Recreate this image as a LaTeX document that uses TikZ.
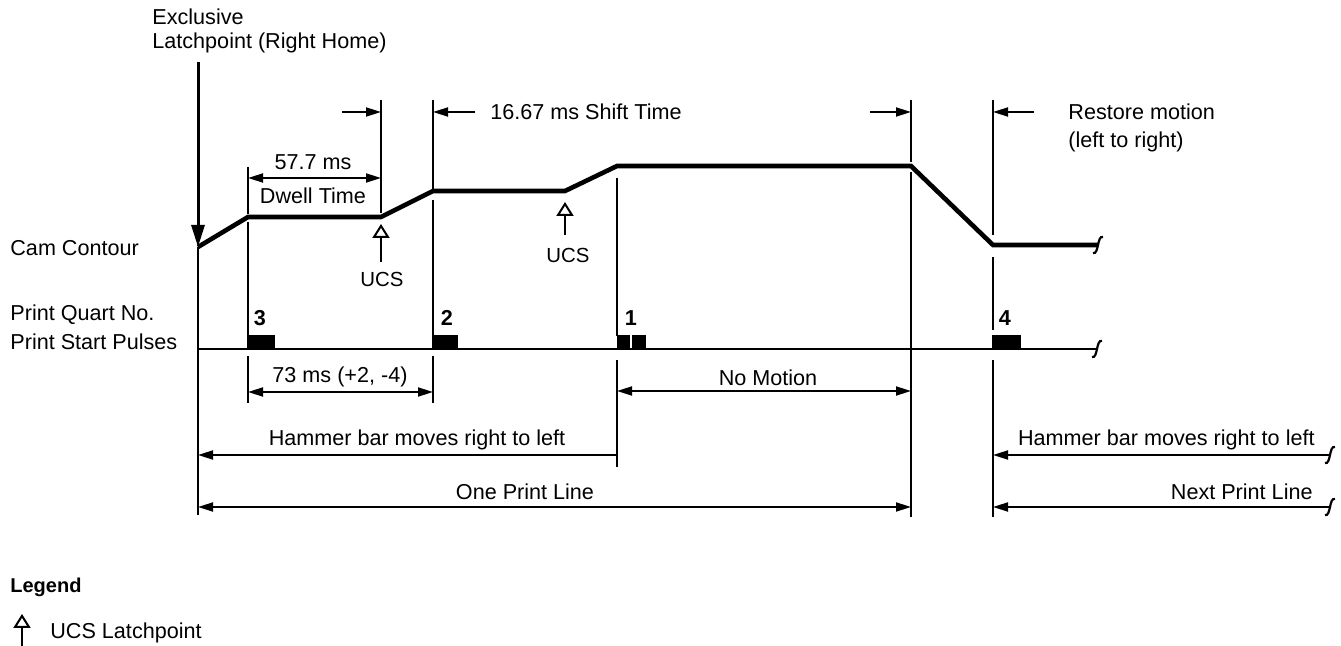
\documentclass[tikz,border=0pt]{standalone}
\usepackage{fontspec}
\setmainfont{Liberation Sans}
\usetikzlibrary{arrows.meta, positioning, calc}

\begin{document}
\begin{tikzpicture}[
        x=0.5pt, y=-0.5pt,
        lbl/.style={font=\fontsize{10.8}{13}\selectfont, inner sep=0pt},
        small/.style={font=\fontsize{10.2}{12}\selectfont, inner sep=0pt},
        num/.style={font=\fontsize{10.8}{13}\selectfont\bfseries, inner sep=0pt},
        cam/.style={line width=2.3pt, line join=miter},
        guide/.style={line width=0.9pt},
        dim/.style={line width=0.9pt, {Triangle[length=7.5pt,width=4.5pt]}-{Triangle[length=7.5pt,width=4.5pt]}},
        toarrow/.style={line width=0.9pt, -{Triangle[length=7.5pt,width=4.5pt]}},
        ucs/.style={line width=1pt, -{Triangle[open,length=7pt,width=8.5pt,line width=1pt]}},
        brk/.pic={\draw[line width=1.1pt] (-5,8) .. controls (1,10) and (-1,-10) .. (5,-8);}
    ]
        \useasboundingbox (0,0) rectangle (1341,646);

        \node (excl) [lbl, anchor=west] at (152,17) {Exclusive};
        \node (latch) [lbl, anchor=west] at (152,43) {Latchpoint (Right Home)};
        \node (camlbl) [lbl, anchor=west] at (10,248) {Cam Contour};
        \node (quart) [lbl, anchor=west] at (10,315) {Print Quart No.};
        \node (pulses) [lbl, anchor=west] at (10,342) {Print Start Pulses};

        \coordinate (c0) at (198,247);
        \coordinate (c1) at (248,217);
        \coordinate (c2) at (381,217);
        \coordinate (c3) at (433,191);
        \coordinate (c4) at (565,191);
        \coordinate (c5) at (617,166);
        \coordinate (c6) at (911,166);
        \coordinate (c7) at (993,245);
        \coordinate (c8) at (1098,245);
        \draw [cam] (c0) -- (c1) -- (c2) -- (c3) -- (c4) -- (c5) -- (c6) -- (c7) -- (c8);
        \pic at (c8) {brk};

        \coordinate (latchtop) at (198,62);
        \draw [line width=1.5pt, -{Triangle[length=11pt,width=6.5pt]}] (latchtop) -- (c0);

        \draw [guide] (c0) -- (198,515);
        \draw [guide] (248,167) -- (248,214) (248,222) -- (248,336) (248,356) -- (248,403);
        \draw [guide] (381,100) -- (381,213);
        \draw [guide] (433,100) -- (433,189) (433,200) -- (433,336) (433,356) -- (433,403);
        \draw [guide] (617,178) -- (617,336) (617,360) -- (617,467);
        \draw [guide] (911,100) -- (911,162) (911,172) -- (911,517);
        \draw [guide] (993,100) -- (993,235) (993,257) -- (993,330) (993,360) -- (993,517);

        \draw [toarrow] (342,112) -- (381,112);
        \draw [toarrow] (475,112) -- (433,112);
        \node (shift) [lbl, anchor=west] at (490,112) {16.67 ms Shift Time};
        \draw [toarrow] (870,112) -- (911,112);
        \draw [toarrow] (1034,112) -- (993,112);
        \node (restore) [lbl, anchor=west] at (1068,112) {Restore motion};
        \node (ltor) [lbl, anchor=west] at (1068,142) {(left to right)};

        \draw [dim] (248,178) -- (381,178);
        \node (dwellms) [lbl] at (313,162) {57.7 ms};
        \node (dwell) [lbl] at (313,196) {Dwell Time};

        \draw [ucs] (381,262) -- (381,224);
        \node (ucsa) [small] at (382,279) {UCS};
        \draw [ucs] (565,235) -- (565,202);
        \node (ucsb) [small] at (568,255) {UCS};

        \coordinate (p0) at (198,349);
        \coordinate (p1) at (1097,349);
        \draw [line width=1.3pt] (p0) -- (p1);
        \pic at (p1) {brk};
        \fill (247,335) rectangle (275,349);
        \fill (432,335) rectangle (458,349);
        \fill (617,335) rectangle (630,349);
        \fill (632,335) rectangle (646,349);
        \fill (992,335) rectangle (1021,349);
        \node (q3) [num] at (260,318) {3};
        \node (q2) [num] at (447,318) {2};
        \node (q1) [num] at (631,318) {1};
        \node (q4) [num] at (1005,318) {4};

        \draw [dim] (248,392) -- (433,392);
        \node (tol) [lbl] at (340,377) {73 ms (+2, -4)};
        \draw [dim] (617,391) -- (911,391);
        \node (nomo) [lbl] at (768,378) {No Motion};
        \draw [toarrow] (617,455) -- (198,455);
        \node (hama) [lbl] at (417,440) {Hammer bar moves right to left};
        \draw [dim] (198,507) -- (911,507);
        \node (oneline) [lbl] at (525,492) {One Print Line};

        \draw [toarrow] (1330,455) -- (993,455);
        \pic at (1330,455) {brk};
        \node (hamb) [lbl, anchor=east] at (1315,440) {Hammer bar moves right to left};
        \draw [toarrow] (1330,507) -- (993,507);
        \pic at (1330,507) {brk};
        \node (nextline) [lbl, anchor=east] at (1313,492) {Next Print Line};

        \node (legend) [font=\fontsize{10}{12}\selectfont\bfseries, inner sep=0pt, anchor=west] at (10,587) {Legend};
        \draw [ucs] (22,646) -- (22,614);
        \node (ucsleg) [lbl, anchor=west] at (50,633) {UCS Latchpoint};
    \end{tikzpicture}
\end{document}
